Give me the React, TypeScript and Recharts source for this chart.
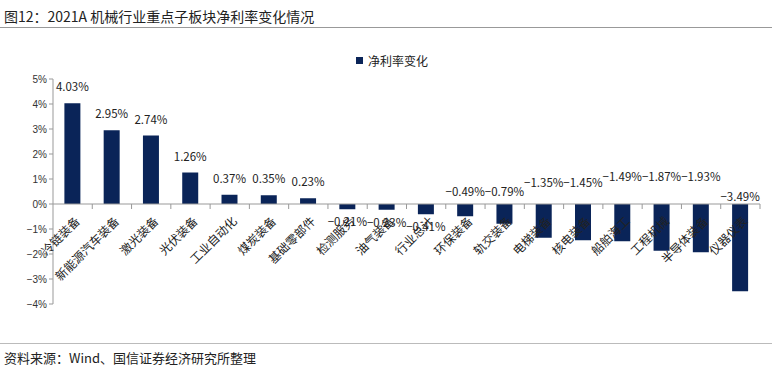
import { Bar, BarChart, LabelList, ReferenceLine, XAxis, YAxis } from "recharts";

const categories = [
  "冷链装备",
  "新能源汽车装备",
  "激光装备",
  "光伏装备",
  "工业自动化",
  "煤炭装备",
  "基础零部件",
  "检测服务",
  "油气装备",
  "行业总计",
  "环保装备",
  "轨交装备",
  "电梯装备",
  "核电装备",
  "船舶海工",
  "工程机械",
  "半导体装备",
  "仪器仪表",
];

const netMarginChange = [
  4.03, 2.95, 2.74, 1.26, 0.37, 0.35, 0.23, -0.21, -0.23, -0.41, -0.49, -0.79, -1.35, -1.45, -1.49, -1.87,
  -1.93, -3.49,
];

const yTicks = [-4, -3, -2, -1, 0, 1, 2, 3, 4, 5];

const seriesName = "净利率变化";
const title = "图12：2021A 机械行业重点子板块净利率变化情况";
const source = "资料来源：Wind、国信证券经济研究所整理";

const data = categories.map((name, i) => ({ name, value: netMarginChange[i] }));

// layout of the plot area
const W = 772;
const H = 373;
const LEFT = 53;
const RIGHT = 760;
const TOP = 79;
const BOTTOM = 304;
const Y_MIN = -4;
const Y_MAX = 5;
const BAND = (RIGHT - LEFT) / categories.length;
const valueToY = (v: number) => TOP + ((Y_MAX - v) / (Y_MAX - Y_MIN)) * (BOTTOM - TOP);
const ZERO_Y = valueToY(0);

const NAVY = "#0a2458";
const CJK = '"Noto Sans CJK SC", "Noto Sans", sans-serif';

const fmt = (v: number) => `${v < 0 ? "−" : ""}${Math.abs(v).toFixed(2)}%`;

const CategoryTick = (props: any) => {
  const { x, payload } = props;
  const ax = x + 8;
  const ay = ZERO_Y + 18;
  return (
    <g>
      <line x1={x + BAND / 2} x2={x + BAND / 2} y1={ZERO_Y} y2={ZERO_Y + 5} stroke="#999" />
      <text
        x={ax}
        y={ay}
        transform={`rotate(-45 ${ax} ${ay})`}
        textAnchor="end"
        fontSize={12}
        fontFamily={CJK}
        fill="#222"
      >
        {payload.value}
      </text>
    </g>
  );
};

// small negatives sit under the bar, larger ones are lifted above the zero line
const labelLift = (v: number) => {
  const a = Math.abs(v);
  if (a < 1) return 8;
  if (a < 1.47) return 17;
  if (a < 2) return 23;
  return 3;
};

const ValueLabel = (props: any) => {
  const { x, width, value } = props;
  const v = Number(value);
  const cx = x + width / 2;
  let y: number;
  if (v >= 0) y = valueToY(v) - 12;
  else if (v > -0.45) y = valueToY(v) + 17;
  else y = ZERO_Y - labelLift(v);
  return (
    <text x={cx} y={y} textAnchor="middle" fontSize={11.5} fontFamily={CJK} fill="#222">
      {fmt(v)}
    </text>
  );
};

export default function App() {
  return (
    <div style={{ position: "absolute", left: 0, top: 0, width: W, height: H, background: "#fff" }}>
      <div
        style={{
          position: "absolute",
          left: 4,
          top: 6,
          fontFamily: CJK,
          fontSize: 14,
          color: "#222",
          whiteSpace: "nowrap",
        }}
      >
        {title}
      </div>
      <div style={{ position: "absolute", left: 0, top: 27, width: W, height: 1, background: "#999" }} />
      <div style={{ position: "absolute", left: 0, top: 0 }}>
        <BarChart
          width={W}
          height={H}
          data={data}
          margin={{ top: TOP, right: W - RIGHT, bottom: H - BOTTOM - 30, left: 0 }}
          barCategoryGap="29%"
        >
          <YAxis
            width={LEFT}
            domain={[Y_MIN, Y_MAX]}
            ticks={yTicks}
            interval={0}
            tickFormatter={(v) => `${v < 0 ? "−" : ""}${Math.abs(v)}%`}
            tick={{ fontSize: 10, fill: "#333", fontFamily: '"Liberation Sans", sans-serif' }}
            axisLine={{ stroke: "#999" }}
            tickLine={{ stroke: "#999" }}
            tickSize={4}
          />
          <XAxis
            dataKey="name"
            height={30}
            interval={0}
            axisLine={false}
            tickLine={false}
            tick={<CategoryTick />}
          />
          <ReferenceLine y={0} stroke="#999" />
          <Bar dataKey="value" name={seriesName} fill={NAVY} isAnimationActive={false}>
            <LabelList dataKey="value" content={<ValueLabel />} />
          </Bar>
        </BarChart>
      </div>
      <div
        style={{
          position: "absolute",
          left: 356,
          top: 52,
          display: "flex",
          alignItems: "center",
          fontFamily: CJK,
          fontSize: 12,
          color: "#222",
          whiteSpace: "nowrap",
        }}
      >
        <span style={{ width: 7, height: 7, background: NAVY, display: "inline-block", marginRight: 5 }} />
        {seriesName}
      </div>
      <div style={{ position: "absolute", left: 0, top: 343, width: W, height: 1, background: "#bbb" }} />
      <div
        style={{
          position: "absolute",
          left: 4,
          top: 348,
          fontFamily: CJK,
          fontSize: 13,
          color: "#222",
          whiteSpace: "nowrap",
        }}
      >
        {source}
      </div>
    </div>
  );
}
